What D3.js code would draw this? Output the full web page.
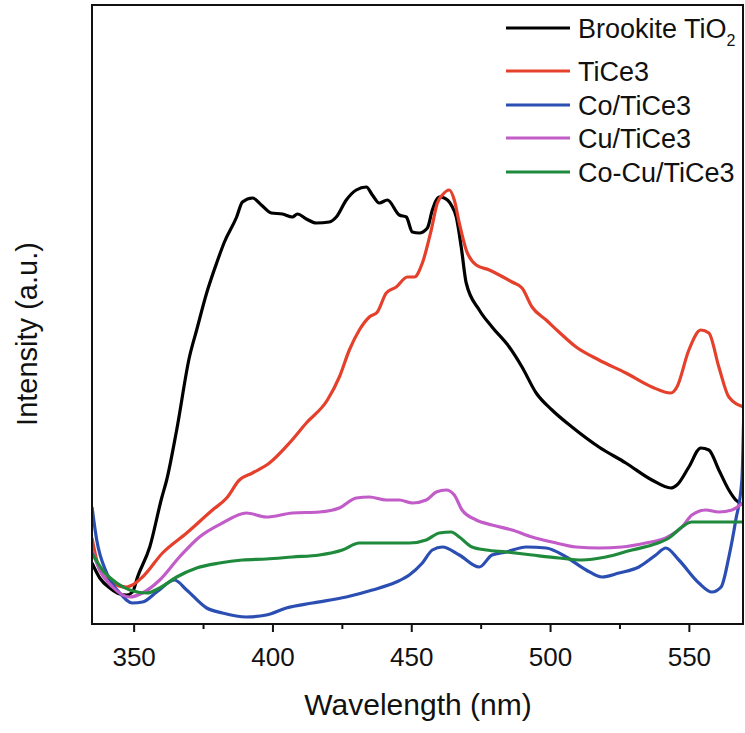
<!DOCTYPE html>
<html>
<head>
<meta charset="utf-8">
<script src="https://cdn.jsdelivr.net/npm/d3@7"></script>
<style>
  body { margin: 0; background: #fff; }
  svg text { font-family: "Liberation Sans", Arial, sans-serif; fill: #111; }
</style>
</head>
<body>
<svg id="chart"></svg>
<script>
let width = 745;
let height = 733;

// wavelength (nm) ticks
let xTicks = [350, 400, 450, 500, 550];
let xMinorTicks = [375, 425, 475, 525];

let seriesNames = ["Brookite TiO", "TiCe3", "Co/TiCe3", "Cu/TiCe3", "Co-Cu/TiCe3"];
let seriesColors = ["#000000", "#e5402c", "#2b4eb2", "#c25cc8", "#1f8a3c"];

// [wavelength, intensity (a.u.)]
let brookite = [[335,61],[337.8,46],[341.4,36],[345,30],[347.5,29],[349.6,32],[351.4,47],[355.8,77],[360.1,126],[361.9,144],[365.5,194],[370.1,267],[372.7,294],[376.3,331],[379.9,361],[382.7,382],[387.1,407],[389.2,422],[392.8,426],[396,419],[399.6,411],[403.6,410],[407.2,407],[409,410],[412.2,405],[415.8,401],[420.5,402],[423,407],[426.6,424],[430.2,434],[433.8,437],[436,429],[438.5,421],[441.4,424],[445.7,409],[448.2,407],[450.4,392],[452.9,391],[455.8,396],[457.6,414],[460.1,427],[461.9,426],[464.4,419],[466.2,407],[468,377],[469.8,341],[474.5,314],[479.1,297],[485.3,277],[489.9,257],[495,231],[500.7,214],[507.9,197],[517.6,177],[527.3,161],[536.7,144],[543.5,136],[545.7,139],[550,157],[554.3,176],[557.2,174],[560.8,154],[564.4,134],[566.9,124],[569.8,119]];
let tice3 = [[335,86],[337.8,54],[342.4,41],[347.5,37],[349.6,39],[353.2,47],[360.4,71],[369.1,91],[378.4,114],[383.5,126],[388.1,144],[392.8,151],[398.9,161],[406.1,181],[412.2,201],[419.8,224],[424.1,247],[427.7,274],[431.3,294],[434.9,307],[437.8,312],[441,331],[444.6,337],[448.6,347],[451.1,347],[454,361],[457.2,394],[459.4,421],[461.2,429],[463.7,434],[465.5,424],[467.3,401],[469.8,374],[473.4,359],[478.1,354],[481.7,349],[486.3,342],[489.9,336],[493.5,317],[498.6,304],[503.2,292],[509.4,277],[517.6,264],[527.3,251],[536.7,237],[543.5,231],[545.7,237],[550,274],[554.3,294],[557.2,291],[560.8,257],[564.4,227],[569.8,217]];
let coTice3 = [[335,117],[336.7,84],[340.3,51],[345,31],[349.6,21],[353.2,22],[358.3,32],[364.7,44],[369.1,34],[376.3,16],[382,11],[390.6,7],[397.8,9],[405,16],[414.4,21],[426.6,27],[436,34],[444.6,42],[449.3,49],[454,61],[457.6,74],[461.2,77],[467.3,69],[474.5,57],[479.1,69],[484.2,72],[491.4,77],[498.6,76],[505.8,67],[513,54],[518.7,47],[524.8,51],[532,57],[538.1,69],[541.7,76],[546.4,64],[553.6,41],[558.3,32],[561.6,37],[564.4,67],[566.9,104],[569.1,144],[569.8,214]];
let cuTice3 = [[335,74],[337.8,54],[342.4,37],[348.6,27],[353.2,31],[359.4,44],[366.5,67],[373.7,87],[382,101],[390.6,111],[397.8,107],[407.2,111],[416.9,112],[424.1,116],[430.2,126],[434.9,127],[441,124],[445.7,124],[450.4,121],[455.4,124],[459,132],[462.6,134],[465.5,129],[468.3,114],[473.4,104],[479.1,99],[486.3,94],[493.5,87],[500.7,82],[509.4,77],[517.6,76],[525.9,77],[534.5,81],[541.7,86],[547.5,97],[551.1,109],[556.1,114],[560.8,112],[565.5,114],[569.8,122]];
let coCuTice3 = [[335,71],[338.8,54],[343.9,41],[348.6,34],[354.7,31],[359.4,36],[365.5,47],[372.7,56],[380.9,61],[389.2,64],[397.8,65],[407.2,67],[416.9,69],[425.2,74],[431.3,81],[441,81],[449.3,81],[455.4,84],[460.1,91],[464.4,92],[467.3,87],[471.9,77],[477,74],[484.2,72],[493.5,69],[503.2,66],[511.5,64],[520.1,67],[529.5,74],[536.7,79],[542.8,86],[547.5,97],[551,102],[569.8,102]];

let allSeries = [brookite, tice3, coTice3, cuTice3, coCuTice3];

let margin = {left: 92, top: 5, right: 743, bottom: 624};

let svg = d3.select("#chart")
    .attr("width", width)
    .attr("height", height);

let x = d3.scaleLinear().domain([335, 569.5]).range([margin.left, margin.right]);
let y = d3.scaleLinear().domain([0, 619]).range([margin.bottom, margin.top]);

svg.append("clipPath").attr("id", "plotClip")
    .append("rect")
    .attr("x", margin.left)
    .attr("y", margin.top)
    .attr("width", margin.right - margin.left)
    .attr("height", margin.bottom - margin.top);

// curves
let line = d3.line().x(d => x(d[0])).y(d => y(d[1])).curve(d3.curveMonotoneX);
svg.append("g")
    .attr("clip-path", "url(#plotClip)")
    .selectAll("path")
    .data(allSeries)
    .join("path")
    .attr("d", d => line(d))
    .attr("fill", "none")
    .attr("stroke", (d, i) => seriesColors[i])
    .attr("stroke-width", 3.2)
    .attr("stroke-linejoin", "round");

// frame
svg.append("rect")
    .attr("x", margin.left)
    .attr("y", margin.top)
    .attr("width", margin.right - margin.left)
    .attr("height", margin.bottom - margin.top)
    .attr("fill", "none")
    .attr("stroke", "#111")
    .attr("stroke-width", 2);

// x axis
let xAxis = svg.append("g")
    .attr("transform", `translate(0,${margin.bottom})`)
    .call(d3.axisBottom(x).tickValues(xTicks).tickSize(8).tickPadding(16).tickFormat(d3.format("d")));
xAxis.select(".domain").remove();
xAxis.selectAll(".tick line").attr("stroke", "#111").attr("stroke-width", 2);
xAxis.selectAll(".tick text")
    .attr("font-size", 26)
    .attr("font-family", "Liberation Sans, Arial, sans-serif")
    .attr("fill", "#111");

let xMinor = svg.append("g")
    .attr("transform", `translate(0,${margin.bottom})`)
    .call(d3.axisBottom(x).tickValues(xMinorTicks).tickSize(5).tickFormat(""));
xMinor.select(".domain").remove();
xMinor.selectAll(".tick line").attr("stroke", "#111").attr("stroke-width", 2);

// axis titles
svg.append("text")
    .attr("x", 418)
    .attr("y", 715)
    .attr("text-anchor", "middle")
    .attr("font-size", 30)
    .text("Wavelength (nm)");

svg.append("text")
    .attr("transform", "translate(37,334) rotate(-90)")
    .attr("text-anchor", "middle")
    .attr("font-size", 29)
    .text("Intensity (a.u.)");

// legend
let legendY = [28, 71, 105, 138, 172];
let legend = svg.append("g");
legend.selectAll("line")
    .data(seriesNames)
    .join("line")
    .attr("x1", 506)
    .attr("x2", 570)
    .attr("y1", (d, i) => legendY[i])
    .attr("y2", (d, i) => legendY[i])
    .attr("stroke", (d, i) => seriesColors[i])
    .attr("stroke-width", 3);
let legendText = legend.selectAll("text")
    .data(seriesNames)
    .join("text")
    .attr("x", 578)
    .attr("y", (d, i) => legendY[i] + 10)
    .attr("font-size", 27)
    .text(d => d);
legendText.filter((d, i) => i == 0)
    .append("tspan")
    .attr("font-size", 16)
    .attr("dy", 8)
    .text("2");
</script>
</body>
</html>
